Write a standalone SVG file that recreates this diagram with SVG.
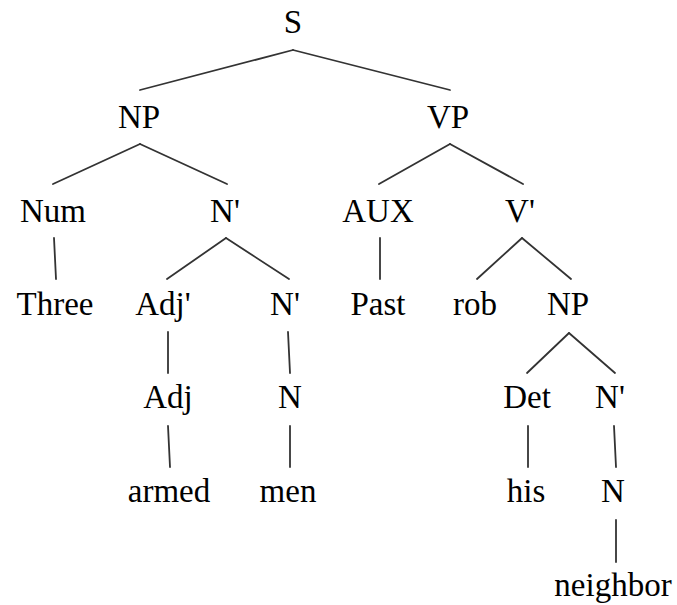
<svg xmlns="http://www.w3.org/2000/svg" width="677" height="605" viewBox="0 0 677 605">
<style>
text{font-family:"Liberation Serif","Times New Roman",serif;font-size:33px;fill:#000;text-anchor:middle}
#edges line{stroke:#333;stroke-width:1.8;stroke-linecap:round}
</style>
<rect width="677" height="605" fill="#fff"/>
<g id="edges">
<line x1="293" y1="50" x2="140" y2="90"/>
<line x1="293" y1="50" x2="450" y2="90"/>
<line x1="140" y1="144" x2="53" y2="184"/>
<line x1="140" y1="144" x2="227" y2="184"/>
<line x1="450" y1="144" x2="379" y2="184"/>
<line x1="450" y1="144" x2="523" y2="184"/>
<line x1="54" y1="238" x2="56" y2="279"/>
<line x1="226" y1="238" x2="167" y2="279"/>
<line x1="226" y1="238" x2="289" y2="279"/>
<line x1="380" y1="238" x2="380" y2="279"/>
<line x1="522" y1="238" x2="477" y2="279"/>
<line x1="522" y1="238" x2="571" y2="279"/>
<line x1="168" y1="332" x2="168" y2="373"/>
<line x1="288" y1="332" x2="290" y2="373"/>
<line x1="569" y1="333" x2="527" y2="373"/>
<line x1="569" y1="333" x2="615" y2="373"/>
<line x1="168" y1="426" x2="170" y2="467"/>
<line x1="290" y1="426" x2="290" y2="467"/>
<line x1="528" y1="426" x2="528" y2="467"/>
<line x1="614" y1="426" x2="616" y2="467"/>
<line x1="616" y1="520" x2="616" y2="562"/>
</g>
<g id="n-S"><text x="293" y="33">S</text></g>
<g id="n-NP"><text x="139" y="128">NP</text></g>
<g id="n-VP"><text x="448" y="128">VP</text></g>
<g id="n-Num"><text x="53" y="222">Num</text></g>
<g id="n-Nbar1"><text x="225" y="222">N'</text></g>
<g id="n-AUX"><text x="378" y="222">AUX</text></g>
<g id="n-Vbar"><text x="520" y="222">V'</text></g>
<g id="n-Three"><text x="55" y="315">Three</text></g>
<g id="n-Adjbar"><text x="163" y="315">Adj'</text></g>
<g id="n-Nbar2"><text x="285" y="315">N'</text></g>
<g id="n-Past"><text x="378" y="315">Past</text></g>
<g id="n-rob"><text x="475" y="315">rob</text></g>
<g id="n-NP2"><text x="568" y="315">NP</text></g>
<g id="n-Adj"><text x="168" y="408">Adj</text></g>
<g id="n-N1"><text x="290" y="408">N</text></g>
<g id="n-Det"><text x="527" y="408">Det</text></g>
<g id="n-Nbar3"><text x="610" y="408">N'</text></g>
<g id="n-armed"><text x="169" y="502">armed</text></g>
<g id="n-men"><text x="288" y="502">men</text></g>
<g id="n-his"><text x="526" y="502">his</text></g>
<g id="n-N2"><text x="613" y="502">N</text></g>
<g id="n-neighbor"><text x="613" y="596">neighbor</text></g>
</svg>
